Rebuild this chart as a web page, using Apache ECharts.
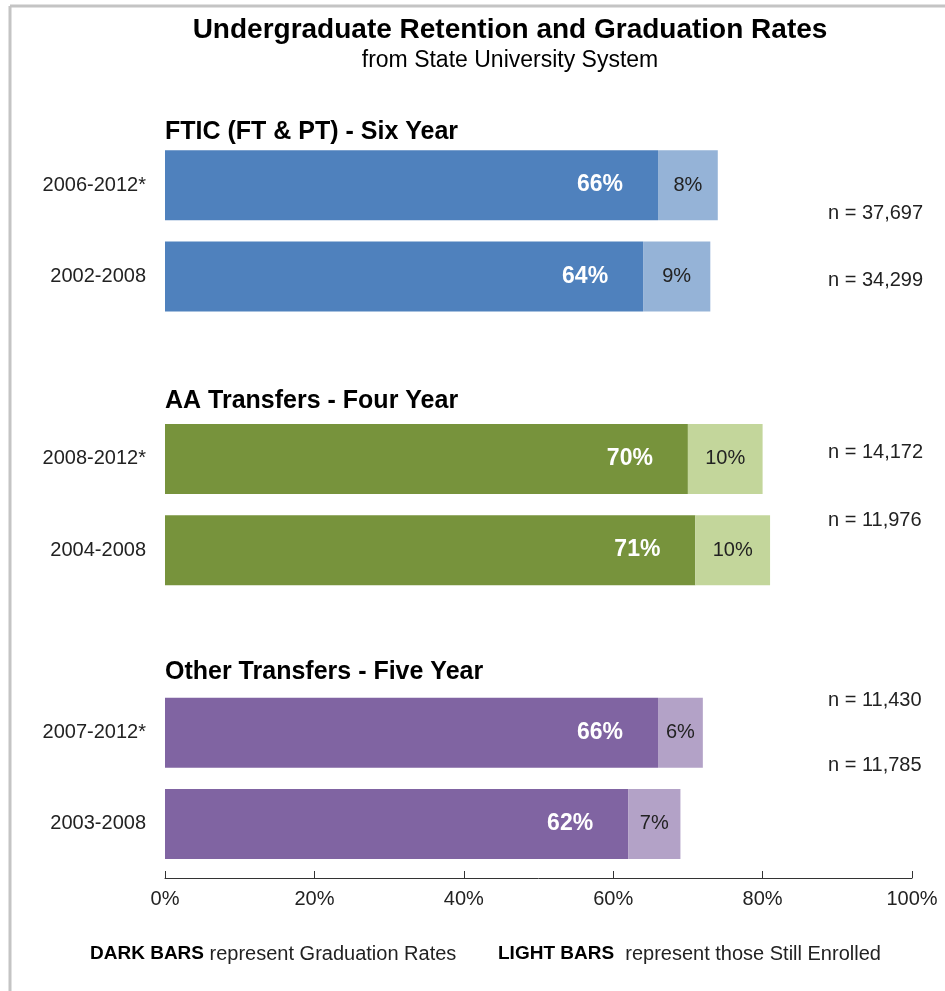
<!DOCTYPE html>
<html>
<head>
    <meta charset="UTF-8">
    <title>Undergraduate Retention and Graduation Rates</title>
    <script src="https://cdn.jsdelivr.net/npm/echarts@6/dist/echarts.min.js"></script>
    <style>
        html, body { margin: 0; padding: 0; background: #fff; }
        #chart { width: 945px; height: 991px; }
    </style>
</head>
<body>
    <div id="chart"></div>
    <script>
        // data (empty slots separate the three groups)
        const categories = ['2006-2012*', '2002-2008', '', '2008-2012*', '2004-2008', '', '2007-2012*', '2003-2008'];
        const gradRates = [66, 64, null, 70, 71, null, 66, 62];
        const stillEnrolled = [8, 9, null, 10, 10, null, 6, 7];
        const groupTitles = ['FTIC (FT & PT) - Six Year', 'AA Transfers - Four Year', 'Other Transfers - Five Year'];
        const nLabels = ['n = 37,697', 'n = 34,299', 'n = 14,172', 'n = 11,976', 'n = 11,430', 'n = 11,785'];
        const xTicks = [0, 20, 40, 60, 80, 100];

        // colours per group: [dark, light]
        const palette = [['#4F81BD', '#95B3D7'], ['#77933C', '#C3D69B'], ['#8064A2', '#B3A2C7']];
        const groupOf = i => Math.floor(i / 3);

        const sans = "'Liberation Sans', Arial, sans-serif";

        const chart = echarts.init(document.getElementById('chart'));

        const darkData = gradRates.map((v, i) => v == null ? null : {
            value: v, itemStyle: { color: palette[groupOf(i)][0] }
        });
        const lightData = stillEnrolled.map((v, i) => v == null ? null : {
            value: v, itemStyle: { color: palette[groupOf(i)][1] }
        });

        // header and n= positions (pixels)
        const titleY = [132, 401, 672];
        const nY = [213, 280, 452, 520, 700, 765];

        const noteRich = {
            b: { fontFamily: sans, fontWeight: 'bold', fontSize: 19, fill: '#000' },
            r: { fontFamily: sans, fontSize: 20, fill: '#222' }
        };

        const graphics = [
            { type: 'line', shape: { x1: 10, y1: 6, x2: 945, y2: 6 }, style: { stroke: '#c4c4c4', lineWidth: 3 } },
            { type: 'line', shape: { x1: 10, y1: 6, x2: 10, y2: 991 }, style: { stroke: '#c4c4c4', lineWidth: 3 } },
            { type: 'text', x: 510, y: 30, style: { text: 'Undergraduate Retention and Graduation Rates', font: 'bold 28px ' + sans, fill: '#000', align: 'center', verticalAlign: 'middle' } },
            { type: 'text', x: 510, y: 61, style: { text: 'from State University System', font: '23px ' + sans, fill: '#000', align: 'center', verticalAlign: 'middle' } },
            { type: 'text', x: 90, y: 954, style: { text: '{b|DARK BARS}{r| represent Graduation Rates}', rich: noteRich, verticalAlign: 'middle' } },
            { type: 'text', x: 498, y: 954, style: { text: '{b|LIGHT BARS}{r|  represent those Still Enrolled}', rich: noteRich, verticalAlign: 'middle' } }
        ];
        groupTitles.forEach((t, i) => {
            graphics.push({ type: 'text', x: 165, y: titleY[i], style: { text: t, font: 'bold 25px ' + sans, fill: '#000', verticalAlign: 'middle' } });
        });
        nLabels.forEach((t, i) => {
            graphics.push({ type: 'text', x: 828, y: nY[i], style: { text: t, font: '20px ' + sans, fill: '#222', verticalAlign: 'middle' } });
        });

        const option = {
            animation: false,
            grid: { left: 165, right: 33, top: 139.5, height: 730 },
            xAxis: {
                type: 'value', min: 0, max: 100, interval: 20, offset: 8.5,
                axisLine: { show: true, lineStyle: { color: '#333', width: 1 } },
                axisTick: { show: true, inside: true, length: 7, lineStyle: { color: '#333' } },
                splitLine: { show: false },
                axisLabel: {
                    formatter: v => xTicks.includes(v) ? v + '%' : '',
                    color: '#222', fontFamily: sans, fontSize: 20, margin: 11
                }
            },
            yAxis: {
                type: 'category', data: categories, inverse: true,
                axisLine: { show: false }, axisTick: { show: false },
                axisLabel: { color: '#222', fontFamily: sans, fontSize: 20, margin: 19 }
            },
            series: [
                {
                    name: 'Graduation', type: 'bar', stack: 'total', barWidth: 70,
                    data: darkData,
                    label: {
                        show: true, position: 'insideRight', distance: 35,
                        formatter: '{c}%', color: '#fff', fontWeight: 'bold',
                        fontFamily: sans, fontSize: 23
                    }
                },
                {
                    name: 'Still Enrolled', type: 'bar', stack: 'total', barWidth: 70,
                    data: lightData,
                    label: {
                        show: true, position: 'inside', formatter: '{c}%',
                        color: '#222', fontFamily: sans, fontSize: 20
                    }
                }
            ],
            graphic: graphics
        };

        chart.setOption(option);
        window.addEventListener('resize', () => chart.resize());
    </script>
</body>
</html>
